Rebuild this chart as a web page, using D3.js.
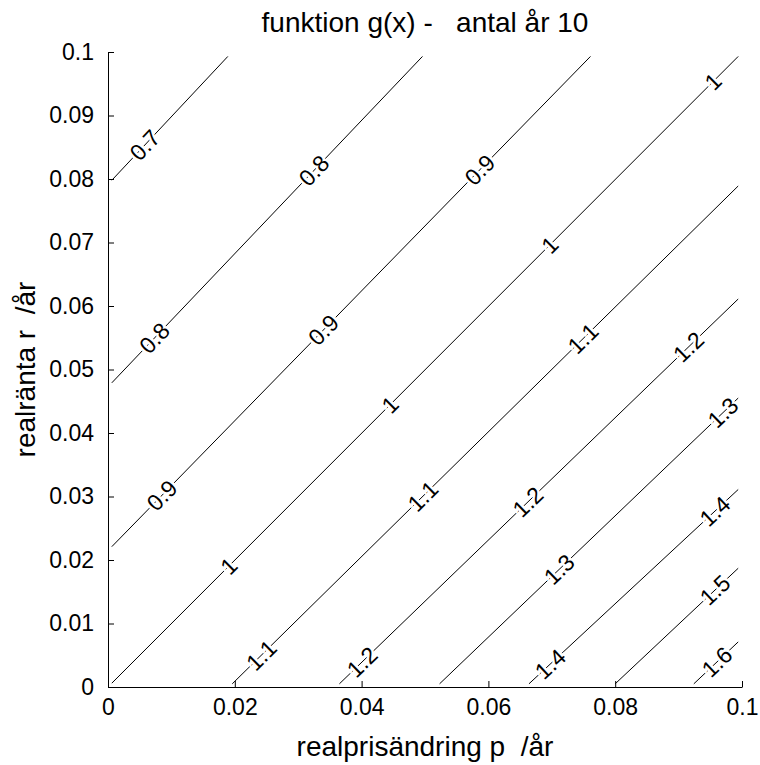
<!DOCTYPE html>
<html>
<head>
<meta charset="utf-8">
<script src="https://cdn.jsdelivr.net/npm/d3@7"></script>
<style>
  html, body { margin: 0; padding: 0; background: #fff; }
  svg { display: block; font-family: "Liberation Sans", Arial, sans-serif; }
</style>
</head>
<body>
<script>
// contour levels of g(x)
const levels = [0.7, 0.8, 0.9, 1, 1.1, 1.2, 1.3, 1.4, 1.5, 1.6]
const pFrom  = [0.0006, 0.0006, 0.0006, 0.0006, 0.0196, 0.0365, 0.0523, 0.0664, 0.0800, 0.0924]
const rFrom  = [0.0798, 0.0479, 0.0221, 0.0006, 0.0005, 0.0005, 0.0005, 0.0005, 0.0005, 0.0005]
const pTo    = [0.0189, 0.0496, 0.0761, 0.0994, 0.0994, 0.0994, 0.0994, 0.0994, 0.0994, 0.0994]
const rTo    = [0.0993, 0.0993, 0.0993, 0.0993, 0.0789, 0.0611, 0.0455, 0.0311, 0.0187, 0.0071]

// inline labels (clabel): level and approximate position
const labelLevel = [0.7, 0.8, 0.8, 0.9, 0.9, 0.9, 1, 1, 1, 1, 1.1, 1.1, 1.1, 1.2, 1.2, 1.2, 1.3, 1.3, 1.4, 1.4, 1.5, 1.6]
const labelP = [0.0061, 0.0324, 0.0077, 0.0592, 0.0342, 0.0087, 0.0955, 0.0697, 0.0445, 0.0192, 0.0752, 0.0497, 0.0242, 0.0918, 0.0660, 0.0403, 0.0971, 0.0713, 0.0960, 0.0697, 0.0960, 0.0960]
const labelR = [0.0851, 0.0814, 0.0546, 0.0809, 0.0560, 0.0300, 0.0953, 0.0696, 0.0444, 0.0189, 0.0546, 0.0300, 0.0050, 0.0533, 0.0294, 0.0037, 0.0431, 0.0184, 0.0274, 0.0037, 0.0150, 0.0040]

const xTicks = [0, 0.02, 0.04, 0.06, 0.08, 0.1]
const yTicks = [0, 0.01, 0.02, 0.03, 0.04, 0.05, 0.06, 0.07, 0.08, 0.09, 0.1]

const width = 760, height = 765
const marginLeft = 108, marginRight = 18, marginTop = 52, marginBottom = 78

const x = d3.scaleLinear([0, 0.1], [marginLeft, width - marginRight])
const y = d3.scaleLinear([0, 0.1], [height - marginBottom, marginTop])

const svg = d3.select("body").append("svg")
	.attr("width", width)
	.attr("height", height)
	.attr("viewBox", [0, 0, width, height])

svg.append("rect").attr("width", width).attr("height", height).attr("fill", "#fff")

// contour lines
const line = d3.line().x(d => x(d[0])).y(d => y(d[1]))
svg.append("g")
	.attr("fill", "none")
	.attr("stroke", "#000")
	.attr("stroke-width", 1)
	.selectAll("path")
	.data(levels)
	.join("path")
	.attr("d", (v, i) => line([[pFrom[i], rFrom[i]], [pTo[i], rTo[i]]]))

// labels, snapped onto their contour and rotated with it
const labels = labelLevel.map((v, j) => {
	const i = levels.indexOf(v)
	const x0 = x(pFrom[i]), y0 = y(rFrom[i]), x1 = x(pTo[i]), y1 = y(rTo[i])
	const dx = x1 - x0, dy = y1 - y0
	const px = x(labelP[j]), py = y(labelR[j])
	const t = ((px - x0) * dx + (py - y0) * dy) / (dx * dx + dy * dy)
	return {text: String(v), cx: x0 + t * dx, cy: y0 + t * dy, angle: Math.atan2(dy, dx) * 180 / Math.PI}
})

svg.append("g")
	.attr("font-size", 23)
	.attr("text-anchor", "middle")
	.selectAll("text")
	.data(labels)
	.join("text")
	.attr("transform", d => `translate(${d.cx},${d.cy}) rotate(${d.angle})`)
	.attr("dy", "0.35em")
	.attr("fill", "#000")
	.attr("stroke", "#fff")
	.attr("stroke-width", 5)
	.attr("paint-order", "stroke")
	.text(d => d.text)

// axes: only left and bottom, ticks pointing inward
const xAxis = d3.axisBottom(x).tickValues(xTicks).tickFormat(d3.format("")).tickSizeInner(-6).tickSizeOuter(0).tickPadding(12)
const yAxis = d3.axisLeft(y).tickValues(yTicks).tickFormat(d3.format("")).tickSizeInner(-6).tickSizeOuter(0).tickPadding(14)

svg.append("g")
	.attr("transform", `translate(0,${height - marginBottom})`)
	.call(xAxis)
	.call(g => g.selectAll("text").attr("font-size", 23).attr("font-family", null).attr("fill", "#000"))
	.call(g => g.selectAll("line,path").attr("stroke", "#000"))

svg.append("g")
	.attr("transform", `translate(${marginLeft},0)`)
	.call(yAxis)
	.call(g => g.selectAll("text").attr("font-size", 23).attr("font-family", null).attr("fill", "#000"))
	.call(g => g.selectAll("line,path").attr("stroke", "#000"))

// title and axis labels
svg.append("text")
	.attr("x", (marginLeft + width - marginRight) / 2)
	.attr("y", 32)
	.attr("text-anchor", "middle")
	.attr("font-size", 28)
	.attr("xml:space", "preserve")
	.text("funktion g(x) -   antal år 10")

svg.append("text")
	.attr("x", (marginLeft + width - marginRight) / 2)
	.attr("y", 756)
	.attr("text-anchor", "middle")
	.attr("font-size", 28)
	.attr("xml:space", "preserve")
	.text("realprisändring p  /år")

svg.append("text")
	.attr("transform", `translate(35,${(marginTop + height - marginBottom) / 2}) rotate(-90)`)
	.attr("text-anchor", "middle")
	.attr("font-size", 28)
	.attr("xml:space", "preserve")
	.text("realränta r  /år")
</script>
</body>
</html>
